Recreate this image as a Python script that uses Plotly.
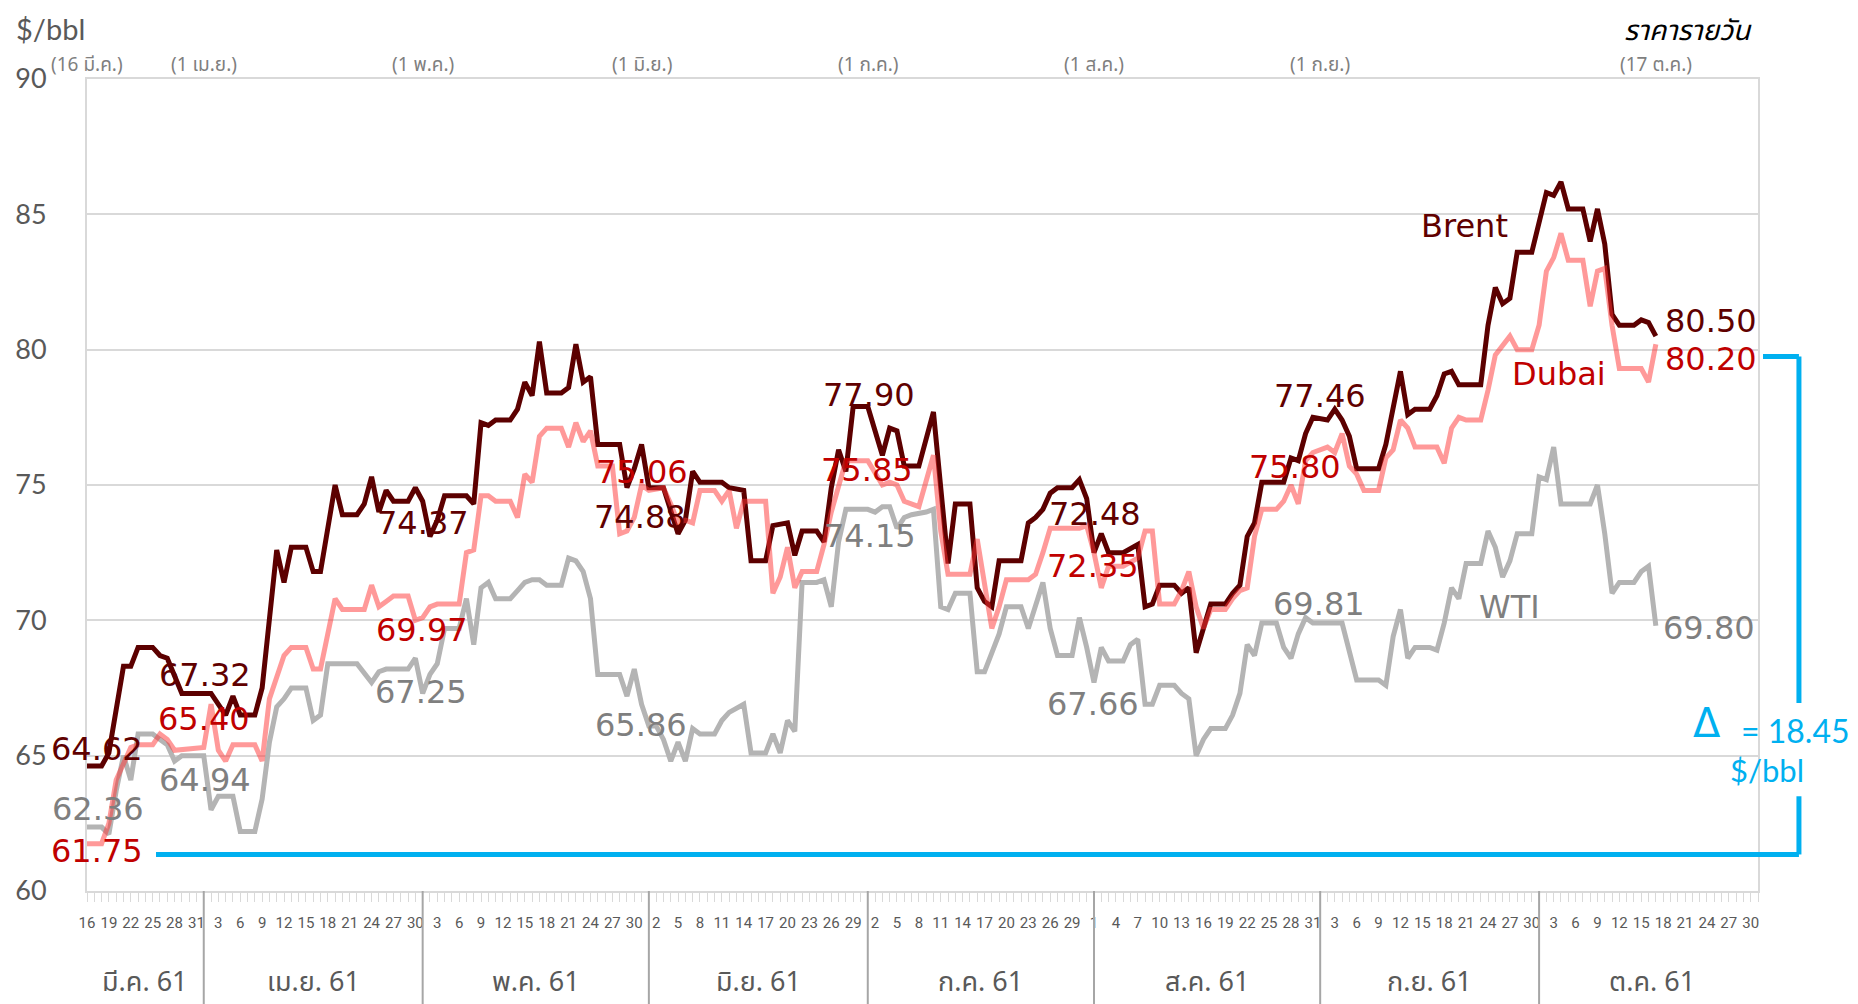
import pandas as pd
import plotly.graph_objects as go

BASE = pd.Timestamp("2018-03-16")

# ---------------- data (day offset from 16 Mar 2018, $/bbl) ----------------
brent_day = [0, 2, 3, 5, 6, 7, 9, 10, 11, 13, 17, 18, 19, 20, 21, 23, 24, 26, 27, 28, 30, 31, 32, 34, 35, 37, 38, 39, 40, 41,
             42, 44, 45, 46, 47, 48, 49, 52, 53, 54, 55, 56, 58, 59, 60, 61, 62, 63, 65, 66, 67, 68, 69, 70, 73, 74, 75, 76, 77, 79,
             80, 81, 82, 83, 84, 87, 88, 90, 91, 93, 94, 96, 97, 98, 100, 101, 102, 103, 104, 105, 107, 109, 110, 111, 112, 114, 116, 118, 119, 121,
             122, 123, 124, 125, 128, 129, 130, 131, 132, 133, 135, 136, 137, 138, 139, 140, 142, 144, 145, 146, 147, 149, 150, 151, 152, 154, 156, 157, 158, 159,
             160, 161, 164, 165, 166, 167, 168, 170, 171, 172, 173, 174, 177, 178, 180, 181, 182, 184, 185, 186, 187, 188, 191, 192, 193, 194, 195, 196, 198, 199,
             200, 201, 202, 203, 205, 206, 207, 208, 209, 210, 212, 213, 214, 215]
brent_val = [64.62, 64.62, 65.1, 68.3, 68.3, 69.0, 69.0, 68.7, 68.6, 67.3, 67.3, 66.9, 66.5, 67.2, 66.5, 66.5, 67.5, 72.6, 71.4, 72.7, 72.7, 71.8, 71.8, 75.0, 73.9, 73.9, 74.3, 75.3, 74.0, 74.8,
             74.4, 74.4, 74.9, 74.4, 73.1, 73.7, 74.6, 74.6, 74.3, 77.3, 77.2, 77.4, 77.4, 77.8, 78.8, 78.3, 80.3, 78.4, 78.4, 78.6, 80.2, 78.8, 79.0, 76.5, 76.5, 74.9, 75.6, 76.5, 74.9, 74.9,
             74.0, 73.2, 73.7, 75.5, 75.1, 75.1, 74.9, 74.8, 72.2, 72.2, 73.5, 73.6, 72.4, 73.3, 73.3, 72.9, 74.9, 76.3, 75.5, 77.9, 77.9, 76.1, 77.1, 77.0, 75.7, 75.7, 77.7, 72.1, 74.3, 74.3,
             71.2, 70.7, 70.5, 72.2, 72.2, 73.6, 73.8, 74.1, 74.7, 74.9, 74.9, 75.2, 74.5, 72.5, 73.2, 72.5, 72.5, 72.8, 70.5, 70.6, 71.3, 71.3, 71.0, 71.2, 68.8, 70.6, 70.6, 71.0, 71.3, 73.1,
             73.6, 75.1, 75.1, 76.0, 75.9, 76.9, 77.5, 77.4, 77.8, 77.4, 76.8, 75.6, 75.6, 76.5, 79.2, 77.6, 77.8, 77.8, 78.3, 79.1, 79.2, 78.7, 78.7, 80.9, 82.3, 81.7, 81.9, 83.6, 83.6, 84.7,
             85.8, 85.7, 86.2, 85.2, 85.2, 84.0, 85.2, 83.9, 81.3, 80.9, 80.9, 81.1, 81.0, 80.5]

dubai_day = [0, 2, 3, 4, 6, 7, 9, 10, 11, 12, 16, 17, 18, 19, 20, 23, 24, 25, 27, 28, 30, 31, 32, 34, 35, 38, 39, 40, 41, 42,
             44, 45, 46, 47, 48, 51, 52, 53, 54, 55, 56, 58, 59, 60, 61, 62, 63, 65, 66, 67, 68, 69, 70, 72, 73, 74, 75, 76, 77, 79,
             80, 81, 82, 83, 84, 86, 87, 88, 89, 90, 93, 94, 95, 96, 97, 98, 100, 101, 102, 103, 104, 107, 109, 110, 111, 112, 114, 116, 117, 118,
             121, 122, 123, 124, 125, 126, 129, 130, 131, 132, 136, 137, 138, 139, 140, 142, 144, 145, 146, 147, 149, 150, 151, 152, 153, 154, 156, 157, 158, 159,
             160, 161, 163, 164, 165, 166, 167, 168, 170, 171, 172, 173, 174, 175, 177, 178, 179, 180, 181, 182, 185, 186, 187, 188, 189, 191, 192, 193, 195, 196,
             198, 199, 200, 201, 202, 203, 205, 206, 207, 208, 209, 210, 213, 214, 215]
dubai_val = [61.75, 61.75, 62.5, 64.1, 65.3, 65.4, 65.4, 65.8, 65.6, 65.2, 65.3, 66.9, 65.2, 64.8, 65.4, 65.4, 64.8, 67.1, 68.7, 69.0, 69.0, 68.2, 68.2, 70.8, 70.4, 70.4, 71.3, 70.5, 70.7, 70.9,
             70.9, 70.0, 70.1, 70.5, 70.6, 70.6, 72.5, 72.6, 74.6, 74.6, 74.4, 74.4, 73.8, 75.4, 75.1, 76.8, 77.1, 77.1, 76.4, 77.3, 76.6, 77.0, 75.7, 75.7, 73.2, 73.3, 73.8, 75.0, 74.8, 74.9,
             74.3, 73.6, 73.7, 73.6, 74.8, 74.8, 74.4, 74.8, 73.4, 74.4, 74.4, 71.0, 71.6, 72.7, 71.2, 71.8, 71.8, 72.8, 74.0, 75.0, 75.9, 75.9, 75.0, 75.1, 75.0, 74.4, 74.2, 76.1, 73.3, 71.7,
             71.7, 73.0, 71.3, 69.7, 70.5, 71.5, 71.5, 71.7, 72.5, 73.4, 73.4, 73.5, 72.5, 71.2, 72.0, 72.0, 72.3, 73.3, 73.3, 70.6, 70.6, 71.1, 71.8, 70.5, 69.7, 70.4, 70.4, 70.8, 71.1, 71.2,
             73.1, 74.1, 74.1, 74.4, 75.0, 74.3, 75.9, 76.2, 76.4, 76.2, 76.9, 75.7, 75.4, 74.8, 74.8, 76.0, 76.3, 77.4, 77.1, 76.4, 76.4, 75.8, 77.1, 77.5, 77.4, 77.4, 78.5, 79.8, 80.5, 80.0,
             80.0, 80.9, 82.9, 83.4, 84.3, 83.3, 83.3, 81.6, 82.9, 83.0, 80.9, 79.3, 79.3, 78.8, 80.2]

wti_day = [0, 2, 3, 4, 5, 6, 7, 9, 10, 11, 12, 13, 16, 17, 18, 19, 20, 21, 23, 24, 25, 26, 27, 28, 30, 31, 32, 33, 35, 37,
           39, 40, 41, 44, 45, 46, 47, 48, 49, 51, 52, 53, 54, 55, 56, 58, 59, 60, 61, 62, 63, 65, 66, 67, 68, 69, 70, 73, 74, 75,
           76, 77, 78, 79, 80, 81, 82, 83, 84, 86, 87, 88, 90, 91, 93, 94, 95, 96, 97, 98, 100, 101, 102, 103, 104, 107, 108, 109, 110, 111,
           112, 113, 115, 116, 117, 118, 119, 121, 122, 123, 124, 125, 126, 128, 129, 130, 131, 132, 133, 135, 136, 137, 138, 139, 140, 142, 143, 144, 145, 146,
           147, 149, 150, 151, 152, 153, 154, 156, 157, 158, 159, 160, 161, 163, 164, 165, 166, 167, 168, 172, 173, 174, 177, 178, 179, 180, 181, 182, 184, 185,
           186, 187, 188, 189, 191, 192, 193, 194, 195, 196, 198, 199, 200, 201, 202, 205, 206, 207, 208, 209, 210, 212, 213, 214, 215]
wti_val = [62.36, 62.36, 62.1, 63.7, 65.0, 64.1, 65.8, 65.8, 65.6, 65.4, 64.8, 65.0, 65.0, 63.0, 63.5, 63.5, 63.5, 62.2, 62.2, 63.4, 65.5, 66.8, 67.1, 67.5, 67.5, 66.3, 66.5, 68.4, 68.4, 68.4,
           67.7, 68.1, 68.2, 68.2, 68.6, 67.3, 68.0, 68.4, 69.7, 69.7, 70.8, 69.1, 71.2, 71.4, 70.8, 70.8, 71.1, 71.4, 71.5, 71.5, 71.3, 71.3, 72.3, 72.2, 71.8, 70.8, 68.0, 68.0, 67.2, 68.2,
           66.9, 66.1, 66.1, 65.6, 64.8, 65.5, 64.8, 66.0, 65.8, 65.8, 66.3, 66.6, 66.9, 65.1, 65.1, 65.8, 65.1, 66.3, 65.9, 71.4, 71.4, 71.5, 70.5, 72.9, 74.1, 74.1, 74.0, 74.2, 74.2, 73.4,
           73.8, 73.9, 74.0, 74.1, 70.5, 70.4, 71.0, 71.0, 68.1, 68.1, 68.8, 69.5, 70.5, 70.5, 69.7, 70.5, 71.4, 69.7, 68.7, 68.7, 70.1, 69.0, 67.7, 69.0, 68.5, 68.5, 69.1, 69.3, 66.9, 66.9,
           67.6, 67.6, 67.3, 67.1, 65.0, 65.6, 66.0, 66.0, 66.5, 67.3, 69.1, 68.7, 69.9, 69.9, 69.0, 68.6, 69.5, 70.1, 69.9, 69.9, 68.8, 67.8, 67.8, 67.6, 69.4, 70.4, 68.6, 69.0, 69.0, 68.9,
           69.9, 71.2, 70.8, 72.1, 72.1, 73.3, 72.7, 71.6, 72.2, 73.2, 73.2, 75.3, 75.2, 76.4, 74.3, 74.3, 74.3, 75.0, 73.2, 71.0, 71.4, 71.4, 71.8, 72.0, 69.8]

# value labels: text, day position, value position
brent_lbl_text = ["64.62", "67.32", "74.37", "74.88", "77.90", "72.48", "77.46", "80.50", "Brent"]
brent_lbl_day = [1.4, 16.2, 46.1, 75.8, 107.2, 138.2, 169.0, 222.5, 188.8]
brent_lbl_val = [65.25, 67.98, 73.60, 73.82, 78.33, 73.93, 78.29, 81.05, 84.57]

dubai_lbl_text = ["61.75", "65.40", "69.97", "75.06", "75.85", "72.35", "75.80", "80.20", "Dubai"]
dubai_lbl_day = [1.4, 16.0, 45.9, 76.1, 106.9, 137.9, 165.5, 222.5, 201.7]
dubai_lbl_val = [61.48, 66.36, 69.65, 75.48, 75.56, 72.01, 75.67, 79.66, 79.10]

wti_lbl_text = ["62.36", "64.94", "67.25", "65.86", "74.15", "67.66", "69.81", "69.80", "WTI"]
wti_lbl_day = [1.5, 16.2, 45.8, 75.9, 107.3, 137.9, 168.9, 222.3, 194.9]
wti_lbl_val = [63.03, 64.10, 67.35, 66.14, 73.12, 66.91, 70.61, 69.72, 70.50]

month_start = ["2018-03-16", "2018-04-01", "2018-05-01", "2018-06-01", "2018-07-01",
               "2018-08-01", "2018-09-01", "2018-10-01", "2018-11-01"]
month_names = ["มี.ค. 61", "เม.ย. 61", "พ.ค. 61", "มิ.ย. 61", "ก.ค. 61", "ส.ค. 61", "ก.ย. 61", "ต.ค. 61"]

top_dates = ["2018-03-16", "2018-04-01", "2018-05-01", "2018-05-31", "2018-07-01", "2018-08-01", "2018-09-01", "2018-10-17"]
top_labels = ["(16 มี.ค.)", "(1 เม.ย.)", "(1 พ.ค.)", "(1 มิ.ย.)", "(1 ก.ค.)", "(1 ส.ค.)", "(1 ก.ย.)", "(17 ต.ค.)"]

spread_low = 61.35
spread_high = 79.75
spread_text = "18.45"

# ---------------- styles ----------------
C_BRENT = "#5c0000"
C_BRENT_T = "#600000"
C_DUBAI = "rgba(255,51,51,0.5)"
C_DUBAI_T = "#c00000"
C_WTI = "#b4b4b4"
C_WTI_T = "#7f7f7f"
C_CYAN = "#00b0f0"
C_GRID = "#d9d9d9"
C_AX = "#595959"
THAI = "Noto Sans Thai, Tahoma, DejaVu Sans, sans-serif"
NUMF = "DejaVu Sans, Verdana, sans-serif"


def to_dates(days):
    return [BASE + pd.Timedelta(days=float(d)) for d in days]


fig = go.Figure()
fig.add_trace(go.Scatter(x=to_dates(wti_day), y=wti_val, mode="lines",
                         line=dict(color=C_WTI, width=5), name="WTI"))
fig.add_trace(go.Scatter(x=to_dates(brent_day), y=brent_val, mode="lines",
                         line=dict(color=C_BRENT, width=5), name="Brent"))
fig.add_trace(go.Scatter(x=to_dates(dubai_day), y=dubai_val, mode="lines",
                         line=dict(color=C_DUBAI, width=5), name="Dubai"))

ann = []
for texts, days, vals, col in [(brent_lbl_text, brent_lbl_day, brent_lbl_val, C_BRENT_T),
                               (dubai_lbl_text, dubai_lbl_day, dubai_lbl_val, C_DUBAI_T),
                               (wti_lbl_text, wti_lbl_day, wti_lbl_val, C_WTI_T)]:
    for t, d, v in zip(texts, days, vals):
        ann.append(dict(x=to_dates([d])[0], y=v, xref="x", yref="y", text=t, showarrow=False,
                        xanchor="center", yanchor="middle",
                        font=dict(family=NUMF, size=32, color=col)))

# month names (centered in month span)
for i, name in enumerate(month_names):
    a = pd.Timestamp(month_start[i])
    b = pd.Timestamp(month_start[i + 1])
    mid = a + (b - a) / 2
    ann.append(dict(x=mid, y=-0.113, xref="x", yref="paper", text=name, showarrow=False,
                    xanchor="center", yanchor="middle",
                    font=dict(family=THAI, size=27, color=C_AX)))

# top date labels
for d, t in zip(top_dates, top_labels):
    ann.append(dict(x=d, y=1.017, xref="x", yref="paper", text=t, showarrow=False,
                    xanchor="center", yanchor="middle",
                    font=dict(family=THAI, size=19, color=C_WTI_T)))

ann.append(dict(x=-0.0435, y=1.062, xref="paper", yref="paper", text="$/bbl", showarrow=False,
                xanchor="left", yanchor="middle", font=dict(family="Lato, sans-serif", size=29, color=C_AX)))
ann.append(dict(x=0.9976, y=1.059, xref="paper", yref="paper", text="ราคารายวัน", showarrow=False,
                xanchor="right", yanchor="middle", font=dict(family=THAI, size=28, color="#000000", style="italic")))

# spread bracket text
ann.append(dict(x=0.9695, y=0.207, xref="paper", yref="paper", text="Δ", showarrow=False,
                xanchor="center", yanchor="middle", font=dict(family="DejaVu Sans", size=40, color=C_CYAN)))
ann.append(dict(x=1.0565, y=0.198, xref="paper", yref="paper", text="= " + spread_text, showarrow=False,
                xanchor="right", yanchor="middle", font=dict(family="Lato, sans-serif", size=32, color=C_CYAN)))
ann.append(dict(x=1.0054, y=0.149, xref="paper", yref="paper", text="$/bbl", showarrow=False,
                xanchor="center", yanchor="middle", font=dict(family="Lato, sans-serif", size=31, color=C_CYAN)))

shapes = []
# month separators below axis
for m in month_start[1:-1]:
    shapes.append(dict(type="line", xref="x", yref="paper", x0=m, x1=m, y0=0, y1=-0.14,
                       line=dict(color="#a6a6a6", width=2)))
# spread bracket
bx_left, bx_right, bx_top_left = 0.0413, 1.0245, 1.003
shapes += [
    dict(type="line", xref="paper", yref="y", x0=bx_left, x1=bx_right, y0=spread_low, y1=spread_low,
         line=dict(color=C_CYAN, width=5)),
    dict(type="line", xref="paper", yref="y", x0=bx_right, x1=bx_right, y0=spread_low, y1=63.5,
         line=dict(color=C_CYAN, width=5)),
    dict(type="line", xref="paper", yref="y", x0=bx_right, x1=bx_right, y0=66.95, y1=spread_high,
         line=dict(color=C_CYAN, width=5)),
    dict(type="line", xref="paper", yref="y", x0=bx_top_left, x1=bx_right, y0=spread_high, y1=spread_high,
         line=dict(color=C_CYAN, width=5)),
]

# page body has an 8px default margin: size the figure so the plot lands where the reference has it
fig.update_layout(
    width=1850, height=996,
    margin=dict(l=79, r=100, t=71, b=113, autoexpand=False),
    paper_bgcolor="white", plot_bgcolor="white",
    showlegend=False,
    annotations=ann, shapes=shapes,
    xaxis=dict(type="date", range=["2018-03-16", "2018-10-31"], automargin=False,
               tick0="2018-03-16", dtick=3 * 86400000, tickformat="%-d",
               tickfont=dict(family="Liberation Sans Narrow, Roboto, sans-serif", size=15, color=C_AX),
               ticks="outside", ticklen=9, tickcolor=C_GRID, tickwidth=1,
               minor=dict(dtick=86400000, ticks="outside", ticklen=9, tickcolor=C_GRID, tickwidth=1),
               ticklabelstandoff=8,
               showline=True, linecolor=C_GRID, linewidth=2, mirror=True,
               showgrid=False, zeroline=False),
    yaxis=dict(range=[60, 90], dtick=5, tick0=60, automargin=False,
               tickfont=dict(family="Lato, sans-serif", size=27, color=C_AX),
               showgrid=True, gridcolor=C_GRID, gridwidth=1.5,
               showline=True, linecolor=C_GRID, linewidth=2, mirror=True,
               ticks="", ticklabelstandoff=33, zeroline=False),
)

fig.write_html("out.html")
